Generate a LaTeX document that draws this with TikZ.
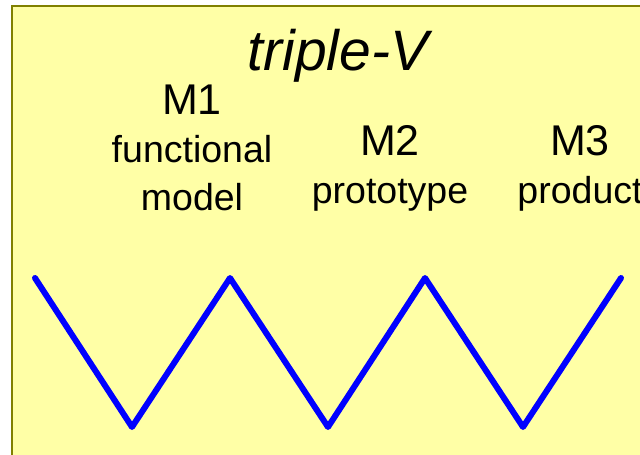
\documentclass[tikz,border=0pt]{standalone}
\usepackage{fontspec}
\setmainfont{Liberation Sans}
\usetikzlibrary{positioning}
\definecolor{padfill}{RGB}{255,255,166}
\definecolor{padline}{RGB}{128,128,0}
\tikzset{
  milestone/.style={anchor=base,font=\fontsize{43}{48}\selectfont},
  phase/.style={anchor=base,font=\fontsize{37.5}{48}\selectfont},
  vee/.style={draw=blue,line width=6pt,line cap=round,line join=round}
}

\begin{document}
\begin{tikzpicture}[x=1pt,y=-1pt]

\clip (0,0) rectangle (640,455);
\draw[padline,fill=padfill,line width=2pt] (12,6) rectangle (700,520);

\node[anchor=base,font=\fontsize{57}{60}\selectfont\itshape] (title) at (338,70) {triple-V};

\node[milestone] (m1) at (192,114) {M1};
\node[phase] (m1top) at (192,162) {functional};
\node[phase] (m1bot) at (192,210) {model};

\node[milestone] (m2) at (390,155) {M2};
\node[phase] (m2bot) at (390,203) {prototype};

\node[milestone] (m3) at (580,155) {M3};
\node[phase] (m3bot) at (580,203) {product};

\draw[vee] (35,278) -- (132,427) -- (230,278) -- (328,427)
  -- (425,278) -- (523,427) -- (621,278);
\end{tikzpicture}
\end{document}
